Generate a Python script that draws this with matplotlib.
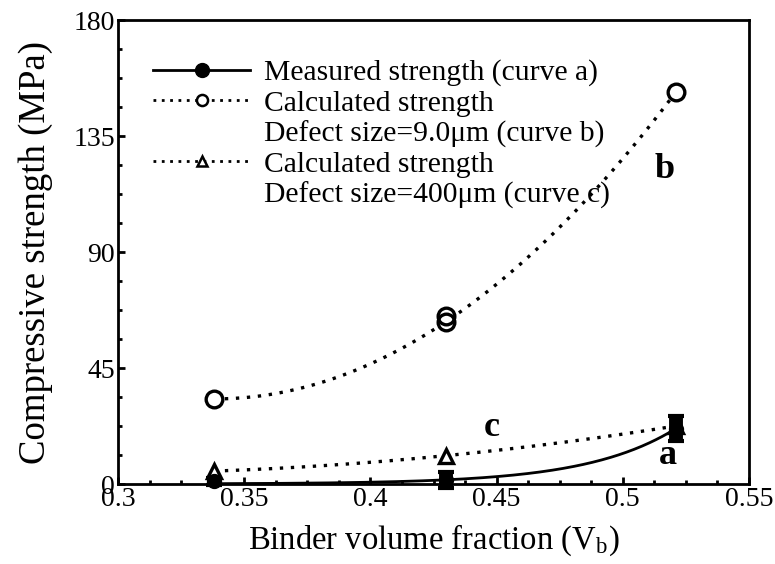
import numpy as np
import matplotlib
matplotlib.use("Agg")
import matplotlib.pyplot as plt
from matplotlib.lines import Line2D

plt.rcParams['font.family'] = ['Liberation Serif', 'DejaVu Serif']
plt.rcParams['mathtext.fontset'] = 'stix'

# data
vb = [0.338, 0.43, 0.521]
measured = [1.0, 1.5, 21.5]
measured_err = [1.5, 3.0, 5.0]
calc_b = [33.0, 63.0, 152.0]
calc_b_extra = [65.0]          # second overlapping circle at 0.43
calc_b_extra_x = [0.43]
calc_c = [5.0, 11.0, 22.5]

xticks = [0.3, 0.35, 0.4, 0.45, 0.5, 0.55]
xticklabels = ['0.3', '0.35', '0.4', '0.45', '0.5', '0.55']
yticks = [0, 45, 90, 135, 180]
yticklabels = ['0', '45', '90', '135', '180']

fig = plt.figure(figsize=(7.75, 5.64), dpi=100)
ax = fig.add_axes([118/775, 1-484/564, (749-118)/775, (484-20)/564])

xv = np.asarray(vb)
xs = np.linspace(xv.min(), xv.max(), 300)

# measured: least-squares exponential fit y = A exp(k x)
ym = np.asarray(measured)
best = None
for k in np.linspace(1, 80, 800):
    e = np.exp(k * xv)
    A = (ym * e).sum() / (e * e).sum()
    sse = ((ym - A * e) ** 2).sum()
    if best is None or sse < best[0]:
        best = (sse, k, A)
ya = best[2] * np.exp(best[1] * xs)

pb = np.polyfit(xv, calc_b, 2)
pc = np.polyfit(xv, calc_c, 2)

ax.plot(xs, ya, '-', color='black', lw=2, zorder=3)
ax.plot(xs, np.polyval(pb, xs), linestyle=(0, (1, 2.3)), color='black', lw=2.4)
ax.plot(xs, np.polyval(pc, xs), linestyle=(0, (1, 2.3)), color='black', lw=2.4)

ax.plot(vb, calc_b, 'o', mfc='white', mec='black', mew=2.4, ms=12, zorder=6)
ax.plot(calc_b_extra_x, calc_b_extra, 'o', mfc='none', mec='black', mew=2.4, ms=12, zorder=6)
ax.plot(vb, calc_c, '^', mfc='white', mec='black', mew=2.4, ms=10, zorder=6, clip_on=False)
ax.errorbar(vb, measured, yerr=measured_err, fmt='o', color='black', ms=10,
            capsize=5.5, elinewidth=10, capthick=3, zorder=7, clip_on=False)

ax.text(0.5165, 122, 'b', fontsize=26, fontweight='bold', ha='center', va='center')
ax.text(0.448, 22, 'c', fontsize=26, fontweight='bold', ha='center', va='center')
ax.text(0.518, 11, 'a', fontsize=26, fontweight='bold', ha='center', va='center')

ax.set_xlim(0.3, 0.55)
ax.set_ylim(0, 180)
ax.set_xticks(xticks)
ax.set_xticklabels(xticklabels)
ax.set_yticks(yticks)
ax.set_yticklabels(yticklabels)
ax.set_xticks(np.arange(0.3, 0.5501, 0.0125), minor=True)
ax.set_yticks(np.arange(0, 180.1, 11.25), minor=True)
ax.tick_params(which='both', direction='in', top=False, right=False, labelsize=20, pad=2)
ax.tick_params(which='major', length=5, width=2)
ax.tick_params(which='minor', length=3, width=2)
for s in ax.spines.values():
    s.set_linewidth(2)

ax.set_xlabel('Binder volume fraction (V$_\\mathregular{b}$)', fontsize=23.5, labelpad=8)
ax.set_ylabel('Compressive strength (MPa)', fontsize=26.5, labelpad=15)

ha = Line2D([], [], color='black', lw=2, marker='o', ms=10)
hb = Line2D([], [], color='black', lw=2, linestyle=(0, (1, 2)), marker='o', mfc='white', mec='black', ms=8, mew=1.8)
hc = Line2D([], [], color='black', lw=2, linestyle=(0, (1, 2)), marker='^', mfc='white', mec='black', ms=7, mew=1.8)
he = Line2D([], [], linestyle='none')
leg = ax.legend([ha, hb, he, hc, he],
                ['Measured strength (curve a)', 'Calculated strength',
                 'Defect size=9.0\u03bcm (curve b)', 'Calculated strength',
                 'Defect size=400\u03bcm (curve c)'],
                loc='upper left', bbox_to_anchor=(0.055, 0.915), frameon=False,
                fontsize=21.3, handlelength=3.3, handletextpad=0.45, labelspacing=0.12,
                borderaxespad=0, borderpad=0)

fig.savefig('out.png', dpi=100)
